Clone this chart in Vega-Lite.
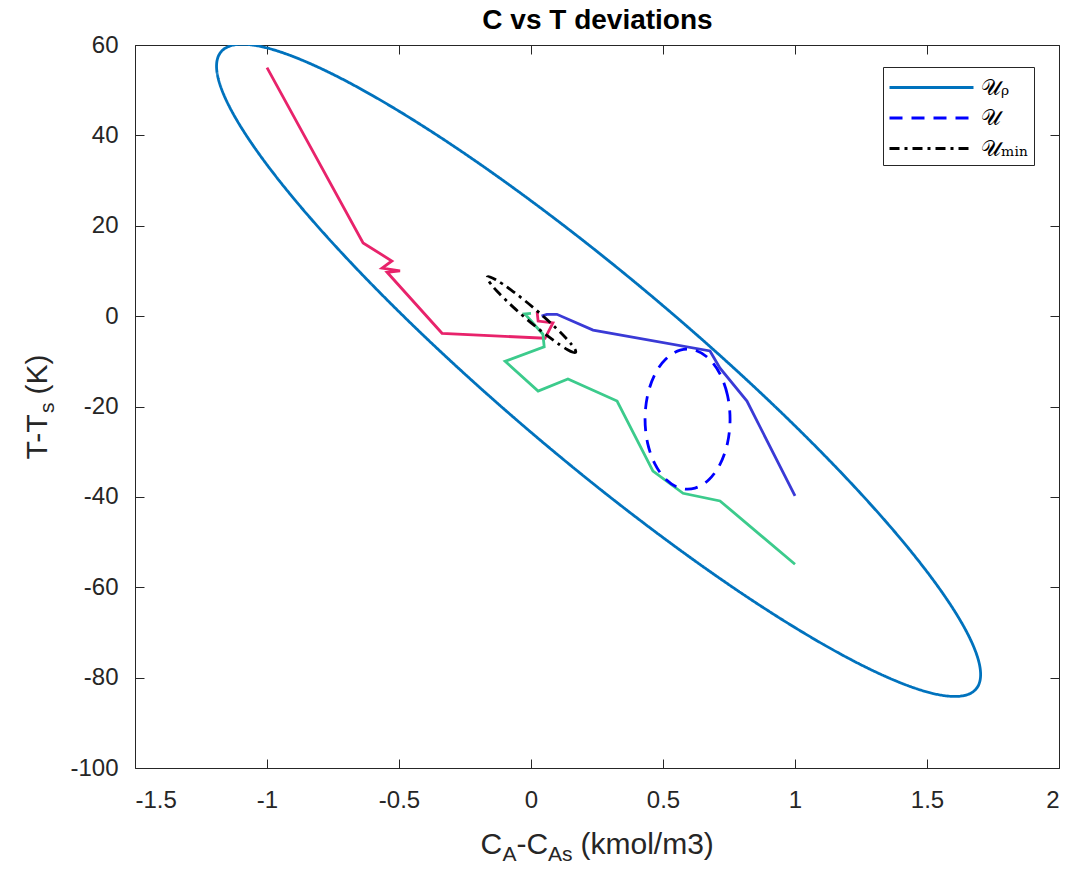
{
  "$schema": "https://vega.github.io/schema/vega-lite/v6.json",
  "width": 924,
  "height": 723,
  "autosize": {"type": "none"},
  "padding": {"left": 135, "top": 45, "right": 14, "bottom": 103},
  "background": "white",
  "config": {
    "view": {"stroke": "#262626", "strokeWidth": 1},
    "axis": {
      "grid": false,
      "domain": false,
      "labelFont": "Liberation Sans",
      "labelFontSize": 24,
      "labelColor": "#262626",
      "tickColor": "#262626",
      "titleFont": "Liberation Sans",
      "titleFontSize": 30,
      "titleFontWeight": "normal",
      "titleColor": "#262626",
      "titleAlign": "left",
      "titleBaseline": "alphabetic",
      "titleAnchor": null,
      "titlePadding": 0
    },
    "legend": {
      "orient": "none",
      "legendX": 748,
      "legendY": 22,
      "strokeColor": "#262626",
      "fillColor": "white",
      "padding": 5,
      "symbolType": "M-1,0H5",
      "symbolSize": 784,
      "symbolStrokeWidth": 3,
      "labelOffset": 62,
      "labelFont": "DejaVu Serif",
      "labelFontSize": 22,
      "labelColor": "#000000",
      "rowPadding": 3.5
    }
  },
  "datasets": {
    "paths": [
      {"traj": "pink", "k": 1, "x": -1.0, "y": 55.0},
      {"traj": "pink", "k": 2, "x": -0.636, "y": 16.2},
      {"traj": "pink", "k": 3, "x": -0.527, "y": 12.2},
      {"traj": "pink", "k": 4, "x": -0.564, "y": 10.6},
      {"traj": "pink", "k": 5, "x": -0.496, "y": 10.0},
      {"traj": "pink", "k": 6, "x": -0.545, "y": 9.7},
      {"traj": "pink", "k": 7, "x": -0.337, "y": -3.8},
      {"traj": "pink", "k": 8, "x": 0.053, "y": -4.9},
      {"traj": "pink", "k": 9, "x": 0.083, "y": -1.5},
      {"traj": "pink", "k": 10, "x": 0.027, "y": -1.1},
      {"traj": "pink", "k": 11, "x": 0.023, "y": 1.0},
      {"traj": "blue", "k": 1, "x": 1.0, "y": -39.8},
      {"traj": "blue", "k": 2, "x": 0.818, "y": -18.8},
      {"traj": "blue", "k": 3, "x": 0.716, "y": -11.5},
      {"traj": "blue", "k": 4, "x": 0.678, "y": -7.7},
      {"traj": "blue", "k": 5, "x": 0.235, "y": -3.1},
      {"traj": "blue", "k": 6, "x": 0.098, "y": 0.4},
      {"traj": "blue", "k": 7, "x": 0.06, "y": 0.4},
      {"traj": "blue", "k": 8, "x": 0.04, "y": 0.0},
      {"traj": "green", "k": 1, "x": 1.0, "y": -54.9},
      {"traj": "green", "k": 2, "x": 0.716, "y": -40.9},
      {"traj": "green", "k": 3, "x": 0.576, "y": -39.2},
      {"traj": "green", "k": 4, "x": 0.462, "y": -34.3},
      {"traj": "green", "k": 5, "x": 0.326, "y": -18.8},
      {"traj": "green", "k": 6, "x": 0.14, "y": -13.9},
      {"traj": "green", "k": 7, "x": 0.027, "y": -16.6},
      {"traj": "green", "k": 8, "x": -0.098, "y": -10.0},
      {"traj": "green", "k": 9, "x": 0.05, "y": -6.8},
      {"traj": "green", "k": 10, "x": 0.045, "y": -4.0},
      {"traj": "green", "k": 11, "x": -0.023, "y": 0.5},
      {"traj": "green", "k": 12, "x": 0.0, "y": 0.6}
    ],
    "ellipses": [
      {"set": "𝒰ᵨ", "k": 0, "x": 1.686, "y": -82.51},
      {"set": "𝒰ᵨ", "k": 1, "x": 1.6256, "y": -84.11},
      {"set": "𝒰ᵨ", "k": 2, "x": 1.5237, "y": -83.52},
      {"set": "𝒰ᵨ", "k": 3, "x": 1.3831, "y": -80.75},
      {"set": "𝒰ᵨ", "k": 4, "x": 1.2084, "y": -75.90},
      {"set": "𝒰ᵨ", "k": 5, "x": 1.0048, "y": -69.10},
      {"set": "𝒰ᵨ", "k": 6, "x": 0.7785, "y": -60.58},
      {"set": "𝒰ᵨ", "k": 7, "x": 0.5361, "y": -50.56},
      {"set": "𝒰ᵨ", "k": 8, "x": 0.2853, "y": -39.39},
      {"set": "𝒰ᵨ", "k": 9, "x": 0.0337, "y": -27.38},
      {"set": "𝒰ᵨ", "k": 10, "x": -0.2111, "y": -14.91},
      {"set": "𝒰ᵨ", "k": 11, "x": -0.4419, "y": -2.34},
      {"set": "𝒰ᵨ", "k": 12, "x": -0.6515, "y": 9.94},
      {"set": "𝒰ᵨ", "k": 13, "x": -0.8334, "y": 21.54},
      {"set": "𝒰ᵨ", "k": 14, "x": -0.9822, "y": 32.12},
      {"set": "𝒰ᵨ", "k": 15, "x": -1.0935, "y": 41.37},
      {"set": "𝒰ᵨ", "k": 16, "x": -1.1637, "y": 49.00},
      {"set": "𝒰ᵨ", "k": 17, "x": -1.1908, "y": 54.77},
      {"set": "𝒰ᵨ", "k": 18, "x": -1.1739, "y": 58.51},
      {"set": "𝒰ᵨ", "k": 19, "x": -1.1136, "y": 60.11},
      {"set": "𝒰ᵨ", "k": 20, "x": -1.0117, "y": 59.52},
      {"set": "𝒰ᵨ", "k": 21, "x": -0.8711, "y": 56.75},
      {"set": "𝒰ᵨ", "k": 22, "x": -0.6964, "y": 51.90},
      {"set": "𝒰ᵨ", "k": 23, "x": -0.4928, "y": 45.10},
      {"set": "𝒰ᵨ", "k": 24, "x": -0.2665, "y": 36.58},
      {"set": "𝒰ᵨ", "k": 25, "x": -0.0241, "y": 26.56},
      {"set": "𝒰ᵨ", "k": 26, "x": 0.2267, "y": 15.39},
      {"set": "𝒰ᵨ", "k": 27, "x": 0.4783, "y": 3.38},
      {"set": "𝒰ᵨ", "k": 28, "x": 0.7231, "y": -9.09},
      {"set": "𝒰ᵨ", "k": 29, "x": 0.9539, "y": -21.66},
      {"set": "𝒰ᵨ", "k": 30, "x": 1.1635, "y": -33.94},
      {"set": "𝒰ᵨ", "k": 31, "x": 1.3454, "y": -45.54},
      {"set": "𝒰ᵨ", "k": 32, "x": 1.4942, "y": -56.12},
      {"set": "𝒰ᵨ", "k": 33, "x": 1.6055, "y": -65.37},
      {"set": "𝒰ᵨ", "k": 34, "x": 1.6757, "y": -73.00},
      {"set": "𝒰ᵨ", "k": 35, "x": 1.7028, "y": -78.77},
      {"set": "𝒰", "k": 0, "x": 0.754, "y": -22.8},
      {"set": "𝒰", "k": 1, "x": 0.7443, "y": -17.50},
      {"set": "𝒰", "k": 2, "x": 0.7163, "y": -12.84},
      {"set": "𝒰", "k": 3, "x": 0.6735, "y": -9.38},
      {"set": "𝒰", "k": 4, "x": 0.6210, "y": -7.54},
      {"set": "𝒰", "k": 5, "x": 0.5650, "y": -7.54},
      {"set": "𝒰", "k": 6, "x": 0.5125, "y": -9.38},
      {"set": "𝒰", "k": 7, "x": 0.4697, "y": -12.84},
      {"set": "𝒰", "k": 8, "x": 0.4417, "y": -17.50},
      {"set": "𝒰", "k": 9, "x": 0.432, "y": -22.8},
      {"set": "𝒰", "k": 10, "x": 0.4417, "y": -28.10},
      {"set": "𝒰", "k": 11, "x": 0.4697, "y": -32.76},
      {"set": "𝒰", "k": 12, "x": 0.5125, "y": -36.22},
      {"set": "𝒰", "k": 13, "x": 0.5650, "y": -38.06},
      {"set": "𝒰", "k": 14, "x": 0.6210, "y": -38.06},
      {"set": "𝒰", "k": 15, "x": 0.6735, "y": -36.22},
      {"set": "𝒰", "k": 16, "x": 0.7163, "y": -32.76},
      {"set": "𝒰", "k": 17, "x": 0.7443, "y": -28.10},
      {"set": "𝒰ₘᵢₙ", "k": 0, "x": 0.1690, "y": -8.002},
      {"set": "𝒰ₘᵢₙ", "k": 1, "x": 0.1591, "y": -8.001},
      {"set": "𝒰ₘᵢₙ", "k": 2, "x": 0.1386, "y": -7.432},
      {"set": "𝒰ₘᵢₙ", "k": 3, "x": 0.1087, "y": -6.334},
      {"set": "𝒰ₘᵢₙ", "k": 4, "x": 0.0716, "y": -4.782},
      {"set": "𝒰ₘᵢₙ", "k": 5, "x": 0.0297, "y": -2.881},
      {"set": "𝒰ₘᵢₙ", "k": 6, "x": -0.0141, "y": -0.762},
      {"set": "𝒰ₘᵢₙ", "k": 7, "x": -0.0568, "y": 1.433},
      {"set": "𝒰ₘᵢₙ", "k": 8, "x": -0.0955, "y": 3.552},
      {"set": "𝒰ₘᵢₙ", "k": 9, "x": -0.1275, "y": 5.452},
      {"set": "𝒰ₘᵢₙ", "k": 10, "x": -0.1508, "y": 7.002},
      {"set": "𝒰ₘᵢₙ", "k": 11, "x": -0.1636, "y": 8.099},
      {"set": "𝒰ₘᵢₙ", "k": 12, "x": -0.1652, "y": 8.666},
      {"set": "𝒰ₘᵢₙ", "k": 13, "x": -0.1553, "y": 8.665},
      {"set": "𝒰ₘᵢₙ", "k": 14, "x": -0.1348, "y": 8.096},
      {"set": "𝒰ₘᵢₙ", "k": 15, "x": -0.1049, "y": 6.998},
      {"set": "𝒰ₘᵢₙ", "k": 16, "x": -0.0678, "y": 5.446},
      {"set": "𝒰ₘᵢₙ", "k": 17, "x": -0.0259, "y": 3.545},
      {"set": "𝒰ₘᵢₙ", "k": 18, "x": 0.0179, "y": 1.426},
      {"set": "𝒰ₘᵢₙ", "k": 19, "x": 0.0606, "y": -0.769},
      {"set": "𝒰ₘᵢₙ", "k": 20, "x": 0.0993, "y": -2.888},
      {"set": "𝒰ₘᵢₙ", "k": 21, "x": 0.1313, "y": -4.788},
      {"set": "𝒰ₘᵢₙ", "k": 22, "x": 0.1546, "y": -6.338},
      {"set": "𝒰ₘᵢₙ", "k": 23, "x": 0.1674, "y": -7.435}
    ]
  },
  "resolve": {"axis": {"x": "independent", "y": "independent"}},
  "layer": [
    {
      "data": {"name": "paths"},
      "transform": [{"filter": "datum.traj === 'pink'"}],
      "mark": {"type": "line", "color": "#E8236B", "strokeWidth": 2.8, "clip": true},
      "encoding": {
        "x": {
          "field": "x", "type": "quantitative",
          "scale": {"domain": [-1.5, 2], "nice": false, "zero": false},
          "axis": {
            "orient": "bottom",
            "values": [-1.5, -1, -0.5, 0, 0.5, 1, 1.5, 2],
            "labelExpr": "'' + datum.value",
            "tickSize": -9,
            "labelPadding": 29,
            "title": "C",
            "titleX": 345,
            "titleY": 85
          }
        },
        "y": {
          "field": "y", "type": "quantitative",
          "scale": {"domain": [-100, 60], "nice": false, "zero": false},
          "axis": {
            "orient": "left",
            "values": [-100, -80, -60, -40, -20, 0, 20, 40, 60],
            "labelExpr": "'' + datum.value",
            "tickSize": -9,
            "labelPadding": 26,
            "title": "T-T",
            "titleX": -89,
            "titleY": 414,
            "titleAngle": 270
          }
        },
        "order": {"field": "k", "type": "quantitative"}
      }
    },
    {
      "data": {"name": "paths"},
      "transform": [{"filter": "datum.traj === 'blue'"}],
      "mark": {"type": "line", "color": "#3A3AD6", "strokeWidth": 2.8, "clip": true},
      "encoding": {
        "x": {
          "field": "x", "type": "quantitative",
          "axis": {
            "orient": "top",
            "values": [-1.5, -1, -0.5, 0, 0.5, 1, 1.5, 2],
            "labels": false,
            "tickSize": -9,
            "title": "C vs T deviations",
            "titleFontSize": 28,
            "titleFontWeight": "bold",
            "titleColor": "#000000",
            "titleAlign": "center",
            "titleX": 462,
            "titleY": -17
          }
        },
        "y": {
          "field": "y", "type": "quantitative",
          "axis": {
            "orient": "right",
            "values": [-100, -80, -60, -40, -20, 0, 20, 40, 60],
            "labels": false,
            "tickSize": -9,
            "title": "(K)",
            "titleAngle": 270,
            "titleX": -1013,
            "titleY": 349
          }
        },
        "order": {"field": "k", "type": "quantitative"}
      }
    },
    {
      "data": {"name": "paths"},
      "transform": [{"filter": "datum.traj === 'green'"}],
      "mark": {"type": "line", "color": "#3CCB8C", "strokeWidth": 2.8, "clip": true},
      "encoding": {
        "x": {
          "field": "x", "type": "quantitative",
          "axis": {
            "orient": "bottom", "labels": false, "ticks": false,
            "title": "A",
            "titleFontSize": 21,
            "titleX": 367,
            "titleY": 92
          }
        },
        "y": {
          "field": "y", "type": "quantitative",
          "axis": {
            "orient": "left", "labels": false, "ticks": false,
            "title": "s",
            "titleFontSize": 21,
            "titleX": -82,
            "titleY": 367.5,
            "titleAngle": 270
          }
        },
        "order": {"field": "k", "type": "quantitative"}
      }
    },
    {
      "data": {"name": "ellipses"},
      "transform": [{"filter": "datum.set === '𝒰ᵨ'"}],
      "mark": {"type": "line", "strokeWidth": 2.8, "interpolate": "cardinal-closed", "clip": true},
      "encoding": {
        "x": {
          "field": "x", "type": "quantitative",
          "axis": {"orient": "bottom", "labels": false, "ticks": false, "title": "-C", "titleX": 381, "titleY": 85}
        },
        "y": {"field": "y", "type": "quantitative", "axis": null},
        "color": {
          "field": "set", "type": "nominal",
          "scale": {"domain": ["𝒰ᵨ", "𝒰", "𝒰ₘᵢₙ"], "range": ["#0072BD", "#0000FF", "#000000"]},
          "legend": {"title": null}
        },
        "strokeDash": {
          "field": "set", "type": "nominal",
          "scale": {"domain": ["𝒰ᵨ", "𝒰", "𝒰ₘᵢₙ"], "range": [[1, 0], [13, 9], [10, 5, 3, 5]]},
          "legend": {"title": null}
        },
        "order": {"field": "k", "type": "quantitative"}
      }
    },
    {
      "data": {"name": "ellipses"},
      "transform": [{"filter": "datum.set === '𝒰'"}],
      "mark": {"type": "line", "strokeWidth": 2.8, "interpolate": "cardinal-closed", "clip": true},
      "encoding": {
        "x": {
          "field": "x", "type": "quantitative",
          "axis": {"orient": "bottom", "labels": false, "ticks": false, "title": "As", "titleFontSize": 21, "titleX": 412.5, "titleY": 92}
        },
        "y": {"field": "y", "type": "quantitative", "axis": null},
        "color": {"field": "set", "type": "nominal"},
        "strokeDash": {"field": "set", "type": "nominal"},
        "order": {"field": "k", "type": "quantitative"}
      }
    },
    {
      "data": {"name": "ellipses"},
      "transform": [{"filter": "datum.set === '𝒰ₘᵢₙ'"}],
      "mark": {"type": "line", "strokeWidth": 2.8, "interpolate": "cardinal-closed", "clip": true},
      "encoding": {
        "x": {
          "field": "x", "type": "quantitative",
          "axis": {"orient": "bottom", "labels": false, "ticks": false, "title": "(kmol/m3)", "titleX": 445, "titleY": 85}
        },
        "y": {"field": "y", "type": "quantitative", "axis": null},
        "color": {"field": "set", "type": "nominal"},
        "strokeDash": {"field": "set", "type": "nominal"},
        "order": {"field": "k", "type": "quantitative"}
      }
    }
  ]
}
